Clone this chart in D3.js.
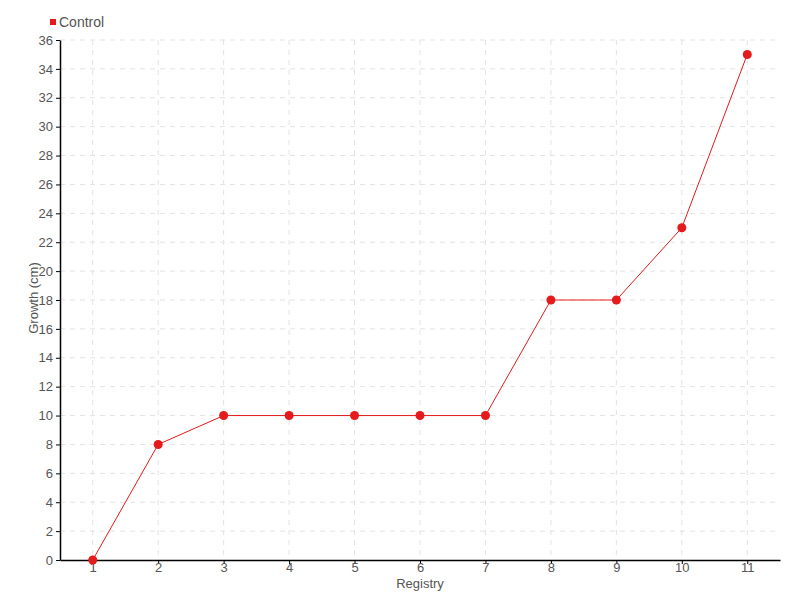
<!DOCTYPE html>
<html><head><meta charset="utf-8">
<script src="https://cdn.jsdelivr.net/npm/d3@7"></script>
<style>
body{margin:0;background:#fff;}
text{font-family:"Liberation Sans",Arial,sans-serif;fill:#555;}
</style></head>
<body><svg id="c" width="800" height="600"></svg>
<script>
const categories = [1,2,3,4,5,6,7,8,9,10,11];
const controlValues = [0,8,10,10,10,10,10,18,18,23,35];
const yTicks = d3.range(0,37,2);
const seriesName = "Control";
const xLabel = "Registry";
const yLabel = "Growth (cm)";

const svg = d3.select("#c");
const m = {l:60, r:20, t:40, b:40};
const W = 800, H = 600;
const x = d3.scalePoint().domain(categories).range([m.l, W-m.r]).padding(0.5);
const y = d3.scaleLinear().domain([0,36]).range([H-m.b, m.t]);
const color = "#e41a1c";
const FF = '"Liberation Sans",Arial,sans-serif';

// grid
const g = svg.append("g");
g.selectAll("line.h").data(yTicks.filter(d=>d>0)).join("line")
  .attr("x1", m.l).attr("x2", W-m.r).attr("y1", d=>y(d)).attr("y2", d=>y(d))
  .attr("stroke","#e3e3e3").attr("stroke-dasharray","5,5");
g.selectAll("line.v").data(categories).join("line")
  .attr("x1", d=>x(d)).attr("x2", d=>x(d)).attr("y1", m.t).attr("y2", H-m.b)
  .attr("stroke","#e3e3e3").attr("stroke-dasharray","5,5");

// axes
const xa = svg.append("g").attr("transform",`translate(0,${H-m.b})`)
  .call(d3.axisBottom(x).tickSize(4).tickSizeOuter(0));
const ya = svg.append("g").attr("transform",`translate(${m.l},0)`)
  .call(d3.axisLeft(y).tickValues(yTicks).tickSize(4).tickSizeOuter(0));
[xa,ya].forEach(a=>{
  a.select(".domain").attr("stroke","#000").attr("stroke-width",1.5);
  a.selectAll(".tick line").attr("stroke","#000");
  a.selectAll(".tick text").attr("fill","#555").style("font-size","13px").style("font-family",FF);
});
xa.selectAll(".tick text").attr("y",3).attr("dy","0.71em");

// line
const pts = categories.map((c,i)=>[c,controlValues[i]]);
svg.append("path").datum(pts)
  .attr("fill","none").attr("stroke",color).attr("stroke-width",1)
  .attr("d", d3.line().x(d=>x(d[0])).y(d=>y(d[1])));
svg.selectAll("circle").data(pts).join("circle")
  .attr("cx", d=>x(d[0])).attr("cy", d=>y(d[1])).attr("r",4.5).attr("fill",color);

// labels
svg.append("text").attr("x", 420).attr("y", 588).attr("text-anchor","middle")
  .style("font-size","13px").text(xLabel);
svg.append("text").attr("transform",`translate(38,298) rotate(-90)`)
  .attr("text-anchor","middle").style("font-size","13px").text(yLabel);

// legend
svg.append("rect").attr("x",50).attr("y",19).attr("width",6).attr("height",6).attr("fill",color);
svg.append("text").attr("x",59).attr("y",27).style("font-size","14px").text(seriesName);
</script></body></html>
